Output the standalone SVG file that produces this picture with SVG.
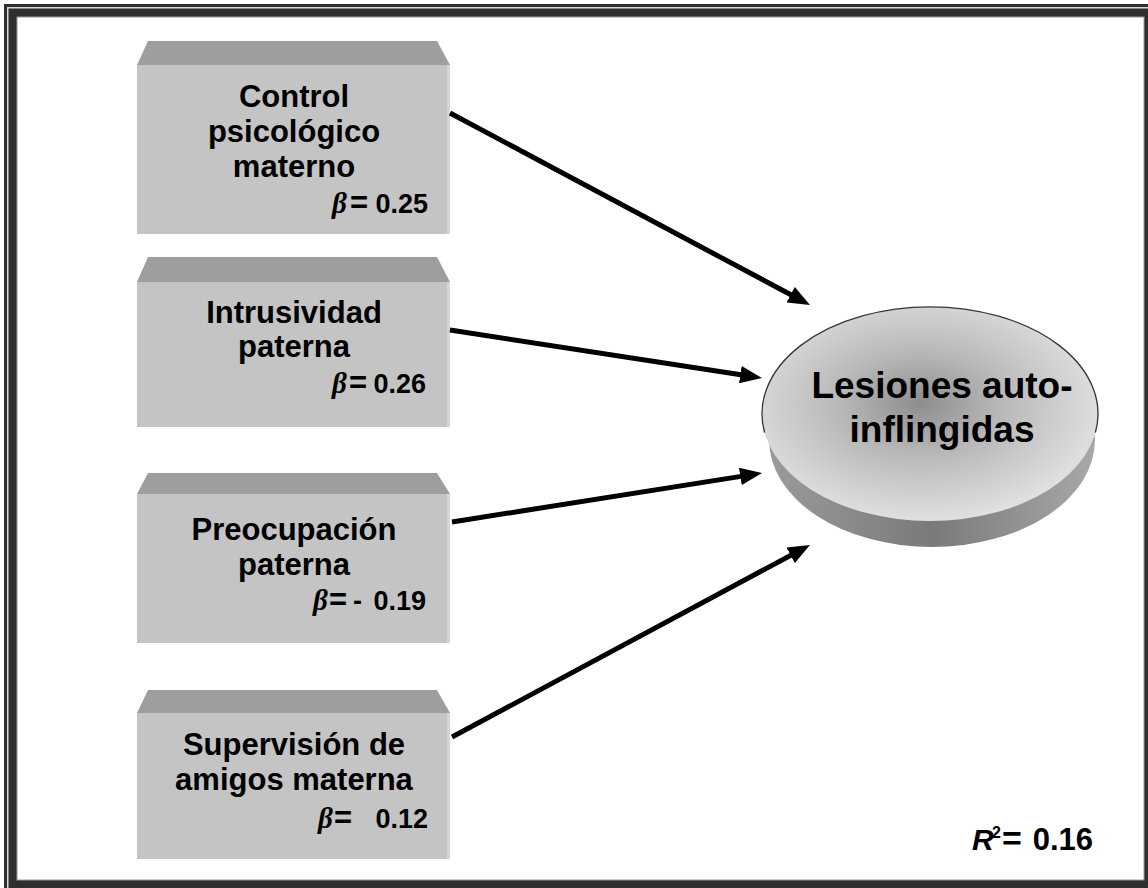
<svg xmlns="http://www.w3.org/2000/svg" width="1148" height="888" viewBox="0 0 1148 888">
<style>
.lbl{font-family:"Liberation Sans",Arial,sans-serif;font-weight:bold;font-size:31px;fill:#000;text-anchor:middle}
.big{font-family:"Liberation Sans",Arial,sans-serif;font-weight:bold;font-size:37px;fill:#000;text-anchor:middle}
.beta{font-family:"Liberation Serif","Times New Roman",serif;font-style:italic;font-weight:bold;font-size:29px;fill:#000}
.num{font-family:"Liberation Sans",Arial,sans-serif;font-weight:bold;font-size:27px;fill:#000}
.eq{font-family:"Liberation Sans",Arial,sans-serif;font-weight:bold;font-size:31px;fill:#000}
.bevel{fill:#9e9e9e}
.face{fill:#c4c4c4}
.edge{fill:#d6d6d6}
.conn{stroke:#000;stroke-width:5;fill:none;marker-end:url(#ah)}
</style>
<defs>
<marker id="ah" viewBox="0 0 10 8" refX="4" refY="4" markerWidth="4.4" markerHeight="3.5" orient="auto">
<path d="M0,0 L10,4 L0,8 z" fill="#000"/>
</marker>
<radialGradient id="fg" cx="0.47" cy="0.45" r="0.55">
<stop offset="0" stop-color="#8e8e8e"/>
<stop offset="0.45" stop-color="#b9b9b9"/>
<stop offset="1" stop-color="#e0e0e0"/>
</radialGradient>
<linearGradient id="sg" x1="0" y1="0" x2="1" y2="0">
<stop offset="0" stop-color="#9a9a9a"/>
<stop offset="0.5" stop-color="#7a7a7a"/>
<stop offset="1" stop-color="#a8a8a8"/>
</linearGradient>
</defs>

<g id="frame">
<rect x="0" y="0" width="1148" height="888" fill="#ffffff"/>
<rect x="4" y="4" width="1160" height="900" fill="#2f2f2f"/>
<rect x="7.75" y="7.75" width="1160" height="900" fill="none" stroke="#d8d8d8" stroke-width="1.5"/>
<rect x="17" y="17" width="1127" height="863" fill="#ffffff" stroke="#9a9a9a" stroke-width="1"/>
</g>

<g id="node-control">
<polygon class="bevel" points="148,41 437,41 450,65 137,65"/>
<rect class="face" x="137" y="65" width="313" height="169"/>
<rect class="edge" x="447" y="65" width="3" height="169"/>
<text class="lbl" x="294" y="107">Control</text>
<text class="lbl" x="294" y="142">psicológico</text>
<text class="lbl" x="294" y="177">materno</text>
<text class="beta" x="332" y="213">β</text>
<text class="eq" x="350" y="213">=</text>
<text class="num" x="428" y="213" text-anchor="end">0.25</text>
</g>

<g id="node-intrusividad">
<polygon class="bevel" points="148,257 437,257 450,282 137,282"/>
<rect class="face" x="137" y="282" width="313" height="145"/>
<rect class="edge" x="447" y="282" width="3" height="145"/>
<text class="lbl" x="294" y="323">Intrusividad</text>
<text class="lbl" x="294" y="357">paterna</text>
<text class="beta" x="332" y="393">β</text>
<text class="eq" x="349" y="393">=</text>
<text class="num" x="426" y="393" text-anchor="end">0.26</text>
</g>

<g id="node-preocupacion">
<polygon class="bevel" points="148,473 437,473 450,494 137,494"/>
<rect class="face" x="137" y="494" width="313" height="149"/>
<rect class="edge" x="447" y="494" width="3" height="149"/>
<text class="lbl" x="294" y="540">Preocupación</text>
<text class="lbl" x="294" y="575">paterna</text>
<text class="beta" x="313" y="610">β</text>
<text class="eq" x="329" y="610">=</text>
<text class="num" x="353" y="610">-</text>
<text class="num" x="426" y="610" text-anchor="end">0.19</text>
</g>

<g id="node-supervision">
<polygon class="bevel" points="148,690 437,690 450,713 137,713"/>
<rect class="face" x="137" y="713" width="313" height="146"/>
<rect class="edge" x="447" y="713" width="3" height="146"/>
<text class="lbl" x="294" y="755">Supervisión de</text>
<text class="lbl" x="294" y="790">amigos materna</text>
<text class="beta" x="318" y="828">β</text>
<text class="eq" x="334" y="828">=</text>
<text class="num" x="428" y="828" text-anchor="end">0.12</text>
</g>

<g id="node-lesiones">
<ellipse cx="932" cy="440" rx="163" ry="107" fill="url(#sg)"/>
<ellipse cx="930" cy="414" rx="168" ry="107" fill="url(#fg)"/>
<path d="M764.6,432.6 A168,107 0 1 1 1095.4,432.6" fill="none" stroke="#333" stroke-width="1.3"/>
<text class="big" x="942" y="398">Lesiones auto-</text>
<text class="big" x="942" y="442">inflingidas</text>
</g>

<g id="connectors">
<line class="conn" x1="450" y1="113" x2="798.4" y2="298.8"/>
<line class="conn" x1="450" y1="330" x2="749" y2="376"/>
<line class="conn" x1="452" y1="522" x2="749" y2="475.1"/>
<line class="conn" x1="452" y1="737" x2="798.4" y2="551.2"/>
</g>

<g id="r2">
<text class="beta" x="972" y="850" style="font-family:'Liberation Sans',Arial,sans-serif;font-size:30px">R</text>
<text class="num" x="992" y="838" style="font-size:16px">2</text>
<text class="eq" x="1002" y="850" style="font-size:34px">=</text>
<text class="num" x="1093" y="850" text-anchor="end" style="font-size:31px">0.16</text>
</g>
</svg>
